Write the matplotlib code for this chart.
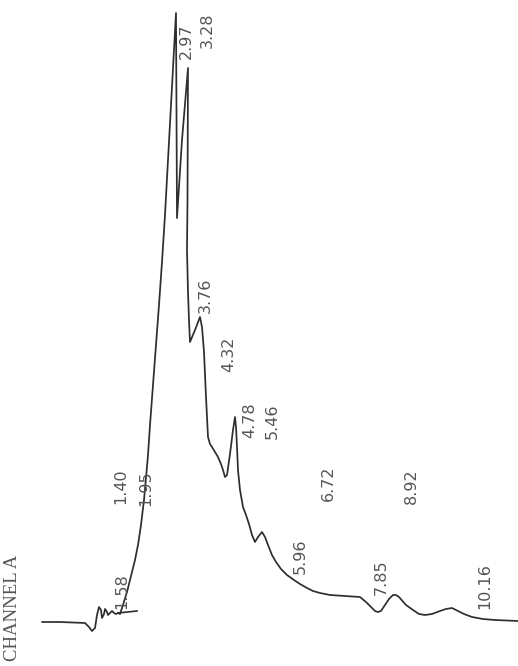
import matplotlib
matplotlib.use("Agg")
import matplotlib.pyplot as plt

# chart position along the strip and detector signal above the baseline
trace_x = [42, 60, 85, 89, 92, 95, 97, 99, 101, 102, 104, 105, 107, 108, 110,
           112, 114, 116, 118, 120, 123, 127, 131, 135, 138, 141, 144, 146,
           148, 150, 153, 156, 159, 162, 165, 168, 171, 174, 176,
           177, 182, 188, 187.5, 187, 188, 189, 190, 195, 200,
           202, 204, 206, 208, 210, 212, 215, 218, 221, 223, 225, 227, 230,
           233, 235, 236, 237, 238, 240, 243, 246, 249, 252, 255, 258, 262,
           265, 268, 272, 276, 281, 287, 294, 300, 307, 313, 320, 330, 345,
           360, 366, 371, 375, 378, 381, 385, 389, 393, 396, 399, 406, 413,
           419, 425, 432, 440, 446, 452, 458, 464, 472, 483, 495, 518]
signal = [0, 0, -1, -5, -9, -6, 7, 15, 12, 4, 8, 13, 10, 7, 9,
          11, 9, 8, 9, 8, 17, 30, 46, 62, 77, 97, 122, 144,
          167, 197, 237, 277, 317, 360, 407, 462, 517, 572, 609,
          404, 482, 554, 422, 372, 330, 302, 280, 292, 305,
          295, 270, 225, 185, 178, 175, 170, 165, 158, 152, 145, 147, 168,
          192, 205, 195, 175, 152, 132, 115, 107, 98, 87, 80, 85, 90,
          85, 77, 67, 60, 53, 47, 42, 38, 34, 31, 29, 27, 26,
          25, 20, 15, 11, 10, 11, 17, 23, 27, 27, 25, 17, 12,
          8, 7, 8, 11, 13, 14, 11, 8, 5, 3, 2, 1]

# small baseline tick near the start
tick_x = [118, 137]
tick_signal = [9, 11]

# retention time labels
peak_labels = ["1.40", "1.58", "1.95", "2.97", "3.28", "3.76", "4.32",
               "4.78", "5.46", "5.96", "6.72", "7.85", "8.92", "10.16"]
label_x = [121, 122, 146, 186, 207, 205, 229, 250, 272, 300, 328, 381, 411, 485]
label_h = [136, 31, 134, 581, 592, 327, 268, 202, 201, 66, 139, 45, 136, 36]

fig = plt.figure(figsize=(5.18, 6.66), dpi=100)
ax = fig.add_axes([0, 0, 1, 1])
ax.set_xlim(0, 518)
ax.set_ylim(-44, 622)
ax.axis("off")

ax.plot(trace_x, signal, color="#2e2e2e", lw=1.25,
        solid_joinstyle="round", solid_capstyle="round")
ax.plot(tick_x, tick_signal, color="#2e2e2e", lw=1.2)

for txt, x, h in zip(peak_labels, label_x, label_h):
    ax.text(x, h, txt, rotation=90, ha="center", va="center",
            fontsize=11.5, color="#555555", family=["DejaVu Sans"])

ax.text(13, 14, "CHANNEL A", rotation=90, ha="center", va="center",
        fontsize=13.5, color="#555555", family=["Liberation Serif", "DejaVu Serif"])

fig.savefig("out.png", dpi=100, facecolor="white")
